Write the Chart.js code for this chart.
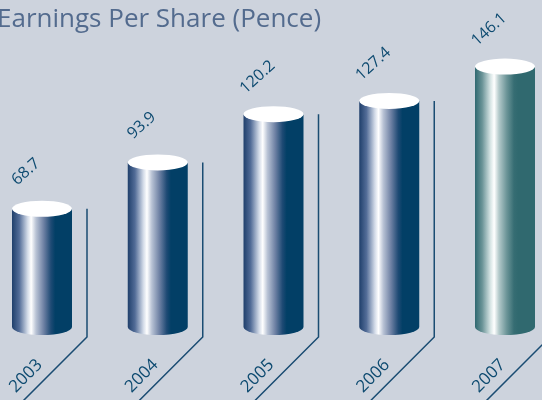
<!DOCTYPE html>
<html>
<head>
<meta charset="utf-8">
<script src="https://cdn.jsdelivr.net/npm/chart.js@4/dist/chart.umd.min.js"></script>
<style>
  body { margin: 0; background: #cdd3dd; overflow: hidden; }
  #wrap { position: relative; width: 542px; height: 400px; }
</style>
</head>
<body>
<div id="wrap"><canvas id="myChart" width="542" height="400"></canvas></div>
<script>
// data
const years = ["2003", "2004", "2005", "2006", "2007"];
const eps = [68.7, 93.9, 120.2, 127.4, 146.1];
const chartTitle = "Earnings Per Share (Pence)";

const ink = "#0d4a70";
const blueStops = [
  [0, "#1f3f6b"], [0.12, "#526c97"], [0.26, "#d3dbe8"], [0.32, "#ffffff"],
  [0.4, "#b9c3d5"], [0.53, "#6d80a3"], [0.65, "#1e4a74"], [0.72, "#023f66"], [1, "#023f66"]
];
const tealStops = [
  [0, "#2f6870"], [0.12, "#6a9397"], [0.26, "#d9e6e6"], [0.32, "#ffffff"],
  [0.4, "#b3c9ca"], [0.53, "#6b9497"], [0.65, "#366d73"], [0.72, "#30696f"], [1, "#30696f"]
];

// cylinders, guide lines, labels
const cylinderPlugin = {
  id: "cylinders",
  afterDatasetsDraw(chart) {
    const ctx = chart.ctx;
    const meta = chart.getDatasetMeta(0);
    const ry = 8;

    ctx.save();
    // title
    ctx.fillStyle = "#536b8e";
    ctx.font = "26px 'Open Sans'";
    ctx.textBaseline = "alphabetic";
    ctx.textAlign = "left";
    ctx.fillText(chartTitle, -3, 27);

    meta.data.forEach((bar, i) => {
      const cx = bar.x;
      const w = bar.width;
      const left = cx - w / 2;
      const rx = w / 2;
      const top = bar.y;
      const bottom = bar.base - ry;
      const stops = i === years.length - 1 ? tealStops : blueStops;

      const grad = ctx.createLinearGradient(left, 0, left + w, 0);
      stops.forEach(s => grad.addColorStop(s[0], s[1]));

      // body + bottom half ellipse
      ctx.beginPath();
      ctx.moveTo(left, top);
      ctx.lineTo(left, bottom);
      ctx.ellipse(cx, bottom, rx, ry, 0, Math.PI, 0, true);
      ctx.lineTo(left + w, top);
      ctx.closePath();
      ctx.fillStyle = grad;
      ctx.fill();

      // top ellipse
      ctx.beginPath();
      ctx.ellipse(cx, top, rx, ry, 0, 0, Math.PI * 2);
      ctx.fillStyle = "#ffffff";
      ctx.fill();

      // guide line
      const lx = cx + 45;
      const ly = bar.base + 2;
      ctx.beginPath();
      ctx.moveTo(lx, top);
      ctx.lineTo(lx, ly);
      ctx.lineTo(lx - 100, ly + 100);
      ctx.strokeStyle = "#1a4c72";
      ctx.lineWidth = 1.5;
      ctx.stroke();

      // value label
      ctx.fillStyle = ink;
      ctx.font = "16px 'Open Sans'";
      ctx.textAlign = "center";
      ctx.textBaseline = "middle";
      ctx.save();
      ctx.translate(cx - 16, top - 37);
      ctx.rotate(-42 * Math.PI / 180);
      ctx.fillText(eps[i].toFixed(1), 0, 0);
      ctx.restore();

      // year label
      ctx.font = "17px 'Open Sans'";
      ctx.save();
      ctx.translate(cx - 16, 376);
      ctx.rotate(-45 * Math.PI / 180);
      ctx.fillText(years[i], 0, 0);
      ctx.restore();
    });
    ctx.restore();
  }
};

const data = {
  labels: years,
  datasets: [{
    label: "EPS",
    data: eps,
    backgroundColor: "rgba(0,0,0,0)",
    barThickness: 60
  }]
};

const config = {
  type: "bar",
  data: data,
  options: {
    responsive: false,
    animation: false,
    layout: { padding: { left: 42, right: 37, top: 41, bottom: 65 } },
    plugins: {
      legend: { display: false },
      tooltip: { enabled: false },
      title: { display: false }
    },
    scales: {
      x: { display: false, offset: false },
      y: { display: false, min: 0, max: 160 }
    }
  },
  plugins: [cylinderPlugin]
};

const myChart = new Chart(document.getElementById("myChart"), config);
</script>
</body>
</html>
